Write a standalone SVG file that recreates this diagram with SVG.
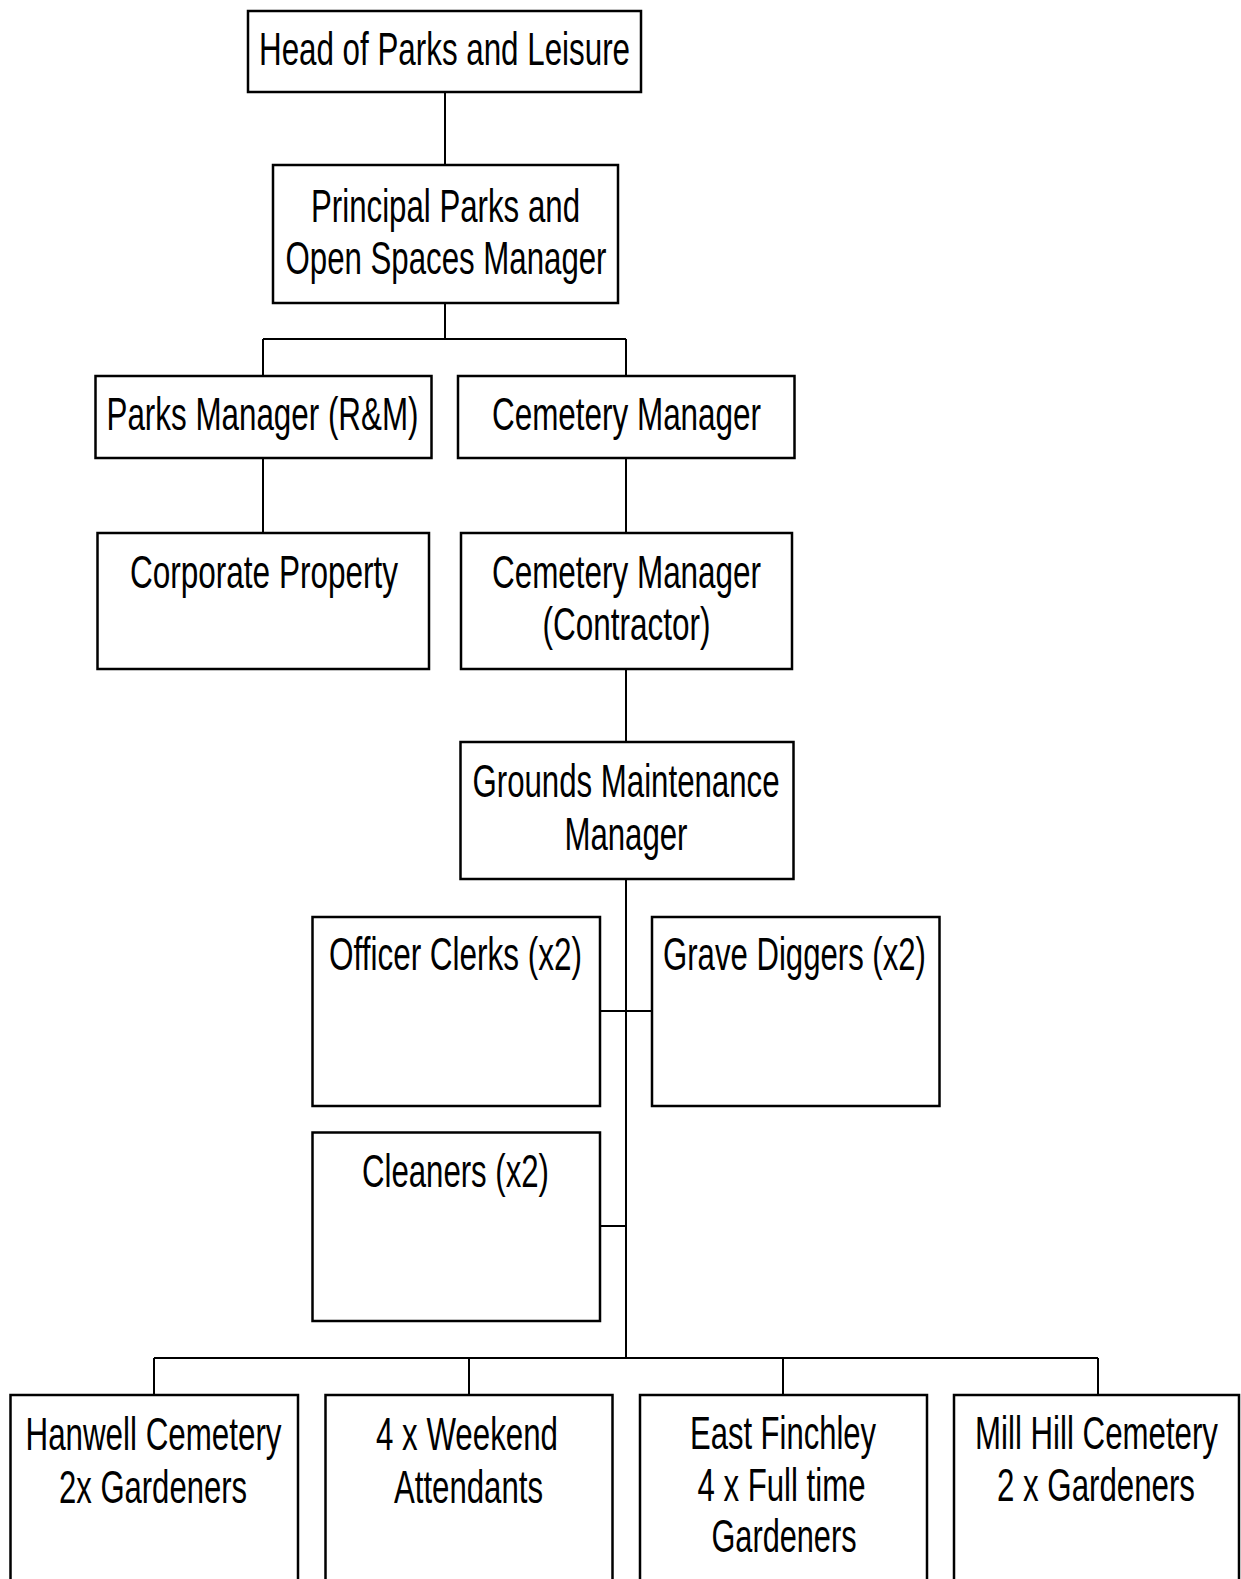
<svg xmlns="http://www.w3.org/2000/svg" width="1241" height="1579" viewBox="0 0 1241 1579">
<style>
.box{fill:#fff;stroke:#000;stroke-width:2.5}
.con{fill:none;stroke:#000;stroke-width:2}
text{font-family:"Liberation Sans Narrow","Liberation Sans",Arial,sans-serif;font-size:46px;fill:#000;text-anchor:middle}
</style>
<rect width="1241" height="1579" fill="#fff"/>
<g id="connectors">
<path class="con" d="M445,92V165"/>
<path class="con" d="M445,303V339M263,339H626M263,339V376M626,339V376"/>
<path class="con" d="M263,458V533"/>
<path class="con" d="M626,458V533"/>
<path class="con" d="M626,669V742"/>
<path class="con" d="M626,879V1358"/>
<path class="con" d="M600,1011H652"/>
<path class="con" d="M600,1226H626"/>
<path class="con" d="M154,1358H1098M154,1358V1395M469,1358V1395M783,1358V1395M1098,1358V1395"/>
</g>
<g id="head"><rect class="box" x="248" y="11" width="393" height="81"/><text x="444.5" y="65" textLength="371" lengthAdjust="spacingAndGlyphs">Head of Parks and Leisure</text></g>
<g id="principal"><rect class="box" x="273" y="165" width="345" height="138"/><text x="445.5" y="222" textLength="269" lengthAdjust="spacingAndGlyphs">Principal Parks and</text><text x="446" y="273.5" textLength="321" lengthAdjust="spacingAndGlyphs">Open Spaces Manager</text></g>
<g id="parks-manager"><rect class="box" x="95.5" y="376" width="336" height="82"/><text x="262.5" y="430" textLength="312" lengthAdjust="spacingAndGlyphs">Parks Manager (R&amp;M)</text></g>
<g id="cemetery-manager"><rect class="box" x="458" y="376" width="336.5" height="82"/><text x="626.5" y="430" textLength="269" lengthAdjust="spacingAndGlyphs">Cemetery Manager</text></g>
<g id="corporate-property"><rect class="box" x="97.5" y="533" width="331.5" height="136"/><text x="264" y="588" textLength="268" lengthAdjust="spacingAndGlyphs">Corporate Property</text></g>
<g id="cemetery-contractor"><rect class="box" x="461" y="533" width="331" height="136"/><text x="626.5" y="588" textLength="269" lengthAdjust="spacingAndGlyphs">Cemetery Manager</text><text x="626.5" y="639.5" textLength="168" lengthAdjust="spacingAndGlyphs">(Contractor)</text></g>
<g id="grounds"><rect class="box" x="460.5" y="742" width="333" height="137"/><text x="626" y="797" textLength="307" lengthAdjust="spacingAndGlyphs">Grounds Maintenance</text><text x="626" y="850" textLength="123" lengthAdjust="spacingAndGlyphs">Manager</text></g>
<g id="officer-clerks"><rect class="box" x="312.5" y="917" width="287.5" height="189"/><text x="455.5" y="970" textLength="253" lengthAdjust="spacingAndGlyphs">Officer Clerks (x2)</text></g>
<g id="grave-diggers"><rect class="box" x="652" y="917" width="287.5" height="189"/><text x="794.5" y="970" textLength="263" lengthAdjust="spacingAndGlyphs">Grave Diggers (x2)</text></g>
<g id="cleaners"><rect class="box" x="312.5" y="1132.5" width="287.5" height="188.5"/><text x="455.5" y="1187" textLength="187" lengthAdjust="spacingAndGlyphs">Cleaners (x2)</text></g>
<g id="hanwell"><rect class="box" x="10.5" y="1395" width="287.5" height="220"/><text x="153.5" y="1449.5" textLength="256" lengthAdjust="spacingAndGlyphs">Hanwell Cemetery</text><text x="153" y="1502.5" textLength="188" lengthAdjust="spacingAndGlyphs">2x Gardeners</text></g>
<g id="weekend"><rect class="box" x="325.5" y="1395" width="287" height="220"/><text x="467" y="1449.5" textLength="182" lengthAdjust="spacingAndGlyphs">4 x Weekend</text><text x="468.5" y="1502.5" textLength="149" lengthAdjust="spacingAndGlyphs">Attendants</text></g>
<g id="east-finchley"><rect class="box" x="640" y="1395" width="287" height="220"/><text x="783" y="1448.5" textLength="186" lengthAdjust="spacingAndGlyphs">East Finchley</text><text x="781.5" y="1500.5" textLength="168" lengthAdjust="spacingAndGlyphs">4 x Full time</text><text x="784" y="1552" textLength="145" lengthAdjust="spacingAndGlyphs">Gardeners</text></g>
<g id="mill-hill"><rect class="box" x="954" y="1395" width="285" height="220"/><text x="1096.5" y="1448.5" textLength="243" lengthAdjust="spacingAndGlyphs">Mill Hill Cemetery</text><text x="1096" y="1500.5" textLength="198" lengthAdjust="spacingAndGlyphs">2 x Gardeners</text></g>
</svg>
